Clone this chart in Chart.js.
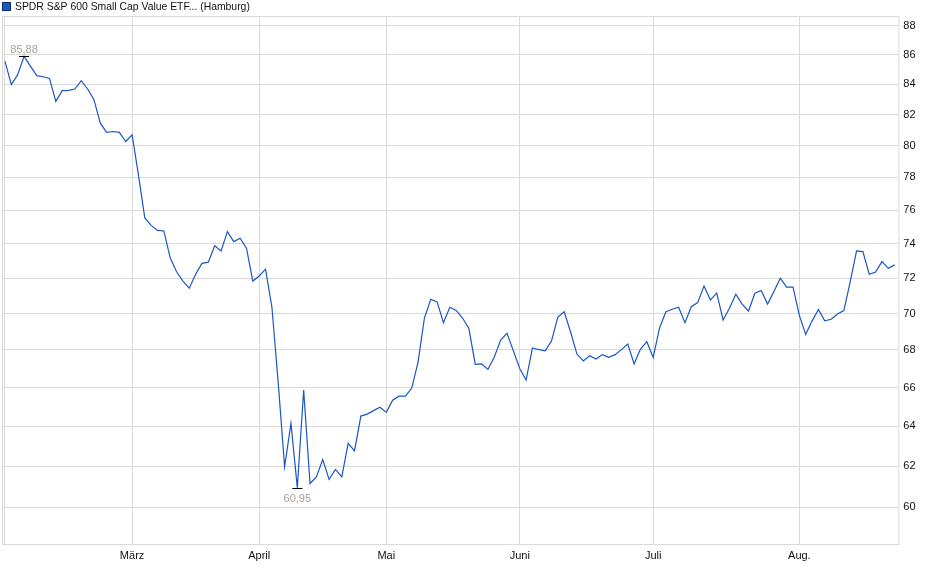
<!DOCTYPE html>
<html>
<head>
<meta charset="utf-8">
<script src="https://cdn.jsdelivr.net/npm/chart.js@4.4.1/dist/chart.umd.min.js"></script>
<style>
  html, body { margin: 0; padding: 0; background: #fff; }
  #wrap { width: 940px; height: 579px; position: relative; }
</style>
</head>
<body>
<div id="wrap"><canvas id="chart"></canvas></div>
<script>
// daily closing prices (Hamburg), one value per trading day, Feb - Aug
const prices = [
  85.54, 83.97, 84.64, 85.88, 85.22, 84.57, 84.50, 84.39, 82.86, 83.57,
  83.59, 83.68, 84.23, 83.68, 82.97, 81.44, 80.84, 80.90, 80.84, 80.26,
  80.69, 78.16, 75.53, 75.08, 74.78, 74.75, 73.17, 72.36, 71.83, 71.42,
  72.22, 72.85, 72.92, 73.88, 73.57, 74.71, 74.12, 74.32, 73.73, 71.83,
  72.12, 72.51, 70.36, 66.23, 61.97, 64.14, 60.95, 65.87, 61.15, 61.47,
  62.33, 61.35, 61.84, 61.47, 63.13, 62.76, 64.52, 64.62, 64.80, 64.97,
  64.71, 65.34, 65.55, 65.55, 65.96, 67.35, 69.75, 70.80, 70.65, 69.49,
  70.35, 70.17, 69.75, 69.17, 67.23, 67.25, 66.96, 67.62, 68.54, 68.91,
  67.95, 67.01, 66.39, 68.11, 68.02, 67.95, 68.49, 69.80, 70.10, 68.98,
  67.78, 67.41, 67.69, 67.51, 67.75, 67.60, 67.75, 68.02, 68.32, 67.25,
  68.05, 68.45, 67.60, 69.20, 70.10, 70.24, 70.35, 69.49, 70.38, 70.61,
  71.55, 70.76, 71.14, 69.64, 70.29, 71.08, 70.53, 70.14, 71.14, 71.29,
  70.53, 71.24, 71.99, 71.48, 71.48, 69.90, 68.85, 69.58, 70.23, 69.60,
  69.68, 69.97, 70.16, 71.78, 73.57, 73.53, 72.22, 72.35, 72.95, 72.56,
  72.76
];

// first trading day of each month (index into prices) and its label
const monthStarts = [20, 40, 60, 81, 102, 125];
const monthLabels = ['März', 'April', 'Mai', 'Juni', 'Juli', 'Aug.'];

const yTicks = [60, 62, 64, 66, 68, 70, 72, 74, 76, 78, 80, 82, 84, 86, 88];

const seriesName = 'SPDR S&P 600 Small Cap Value ETF... (Hamburg)';
const lineColor = '#1a56c4';
const gridColor = '#dadada';

Chart.defaults.font.family = '"Liberation Sans", Arial, sans-serif';
Chart.defaults.font.size = 11;
Chart.defaults.color = '#111';

// frame, legend and min/max markers
const extrasPlugin = {
  id: 'extras',
  beforeDatasetsDraw(chart) {
    const { ctx, chartArea: a } = chart;
    ctx.save();
    ctx.strokeStyle = gridColor;
    ctx.lineWidth = 1;
    ctx.strokeRect(a.left + 0.5, a.top + 0.5, a.right - a.left, a.bottom - a.top);
    ctx.beginPath();
    ctx.moveTo(a.left + 2.5, a.top);
    ctx.lineTo(a.left + 2.5, a.bottom);
    ctx.stroke();
    ctx.restore();
  },
  afterDraw(chart) {
    const { ctx } = chart;
    const xs = chart.scales.x, ys = chart.scales.y;
    ctx.save();
    // legend
    ctx.fillStyle = lineColor;
    ctx.fillRect(3, 3, 7, 7);
    ctx.strokeStyle = '#0d2f6e';
    ctx.lineWidth = 1;
    ctx.strokeRect(2.5, 2.5, 8, 8);
    ctx.fillStyle = '#111';
    ctx.font = '10.4px "Liberation Sans", Arial, sans-serif';
    ctx.textBaseline = 'middle';
    ctx.textAlign = 'left';
    ctx.fillText(seriesName, 15, 7);

    // high / low markers
    const hi = Math.max(...prices), lo = Math.min(...prices);
    const iHi = prices.indexOf(hi), iLo = prices.indexOf(lo);
    const fmt = v => v.toFixed(2).replace('.', ',');
    ctx.font = '11px "Liberation Sans", Arial, sans-serif';
    ctx.strokeStyle = '#000';
    ctx.lineWidth = 1;
    ctx.textAlign = 'center';
    ctx.fillStyle = '#a8a096';

    let px = xs.getPixelForValue(iHi), py = Math.round(ys.getPixelForValue(hi)) + 0.5;
    ctx.beginPath();
    ctx.moveTo(px - 5, py);
    ctx.lineTo(px + 5, py);
    ctx.stroke();
    ctx.textBaseline = 'alphabetic';
    ctx.fillText(fmt(hi), px, py - 4);

    px = xs.getPixelForValue(iLo); py = Math.round(ys.getPixelForValue(lo)) + 0.5;
    ctx.beginPath();
    ctx.moveTo(px - 5, py);
    ctx.lineTo(px + 5, py);
    ctx.stroke();
    ctx.textBaseline = 'top';
    ctx.fillText(fmt(lo), px, py + 5);
    ctx.restore();
  }
};

new Chart(document.getElementById('chart'), {
  type: 'line',
  data: {
    datasets: [{
      label: seriesName,
      data: prices.map((v, i) => ({ x: i, y: v })),
      borderColor: lineColor,
      borderWidth: 1.2,
      pointRadius: 0,
      tension: 0,
      fill: false
    }]
  },
  options: {
    responsive: true,
    maintainAspectRatio: false,
    animation: false,
    layout: { padding: { top: 16, left: 2, right: 0, bottom: 0 } },
    plugins: {
      legend: { display: false },
      tooltip: { enabled: false }
    },
    scales: {
      x: {
        type: 'linear',
        min: -0.47,
        max: 140.57,
        grid: { color: gridColor, drawTicks: false },
        border: { display: false },
        afterBuildTicks(scale) {
          scale.ticks = monthStarts.map(v => ({ value: v }));
        },
        afterFit(scale) { scale.height = 35; },
        ticks: {
          padding: 5,
          maxRotation: 0,
          autoSkip: false,
          callback: v => monthLabels[monthStarts.indexOf(v)]
        }
      },
      y: {
        type: 'logarithmic',
        position: 'right',
        min: 58.28,
        max: 88.68,
        grid: { color: gridColor, drawTicks: false },
        border: { display: false },
        afterBuildTicks(scale) {
          scale.ticks = yTicks.map(v => ({ value: v }));
        },
        afterFit(scale) { scale.width = 41.7; },
        ticks: {
          padding: 5,
          autoSkip: false,
          callback: v => String(v)
        }
      }
    }
  },
  plugins: [extrasPlugin]
});
</script>
</body>
</html>
